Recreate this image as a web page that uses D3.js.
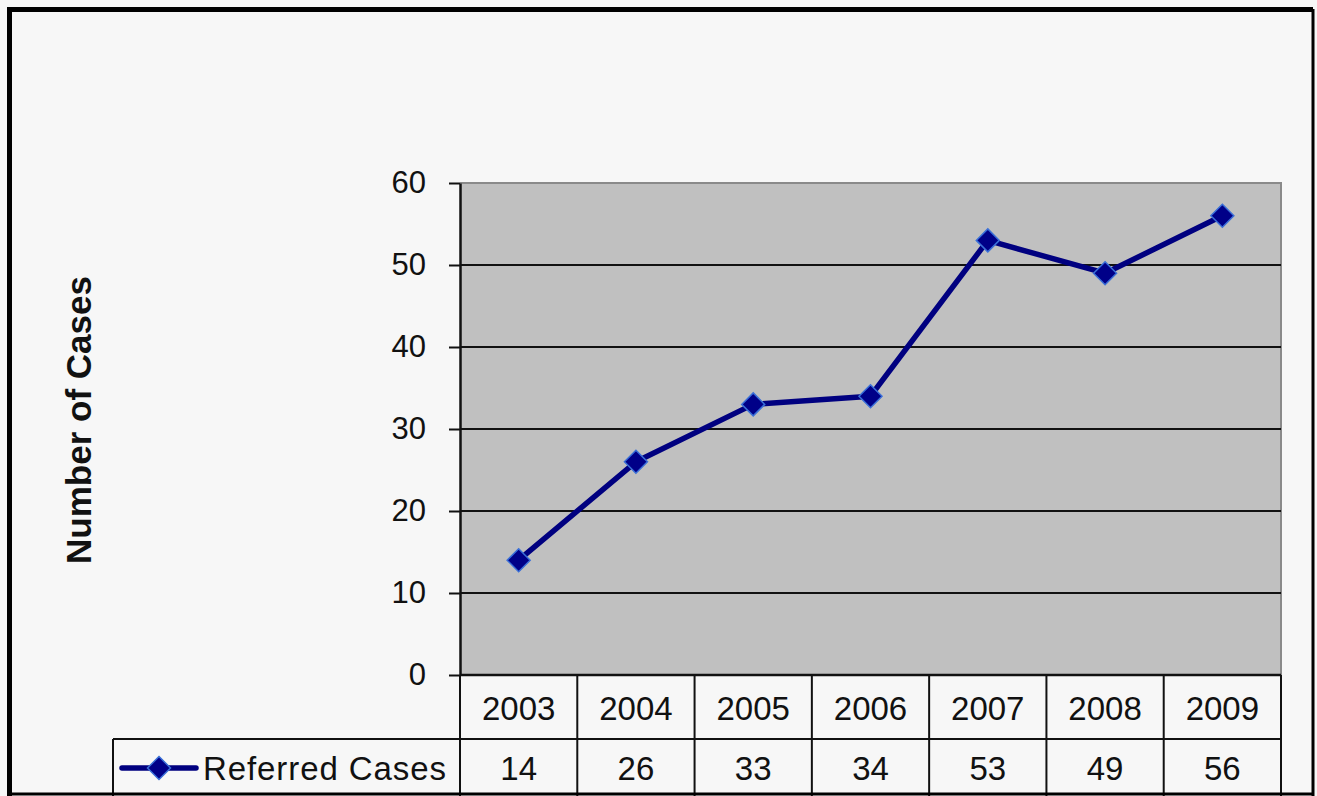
<!DOCTYPE html>
<html>
<head>
<meta charset="utf-8">
<script src="https://cdn.jsdelivr.net/npm/d3@7"></script>
<style>
  html, body { margin: 0; padding: 0; background: #f7f7f7; }
  svg { display: block; }
  text { font-family: "Liberation Sans", Arial, sans-serif; }
</style>
</head>
<body>
<svg id="chart" width="1317" height="796"></svg>
<script>
// ---- data ----
const years = ["2003", "2004", "2005", "2006", "2007", "2008", "2009"];
const referredCases = [14, 26, 33, 34, 53, 49, 56];
const seriesName = "Referred Cases";
const yTicks = [0, 10, 20, 30, 40, 50, 60];
const yTitle = "Number of Cases";

const svg = d3.select("#chart");
const W = 1317, H = 796;

// layout
const plot = { left: 460, right: 1281, top: 183, bottom: 675 };
const rowH1 = 64;   // year row
const legendLeft = 113;

svg.append("rect").attr("x", 0).attr("y", 0).attr("width", W).attr("height", H).attr("fill", "#f7f7f7");

const x = d3.scaleBand().domain(years).range([plot.left, plot.right]).padding(0);
const y = d3.scaleLinear().domain([0, 60]).range([plot.bottom, plot.top]);

// plot background
svg.append("rect")
  .attr("x", plot.left).attr("y", plot.top)
  .attr("width", plot.right - plot.left).attr("height", plot.bottom - plot.top)
  .attr("fill", "#c0c0c0");
// plot border (top/right grey)
svg.append("path")
  .attr("d", `M${plot.left},${plot.top}H${plot.right}V${plot.bottom}`)
  .attr("fill", "none").attr("stroke", "#8a8a8a").attr("stroke-width", 2);

// gridlines
svg.append("g").selectAll("line").data(yTicks.filter(t => t > 0 && t < 60)).join("line")
  .attr("x1", plot.left).attr("x2", plot.right)
  .attr("y1", d => y(d)).attr("y2", d => y(d))
  .attr("stroke", "#111").attr("stroke-width", 2);

// y axis
const yAxis = svg.append("g")
  .attr("transform", `translate(${plot.left},0)`)
  .call(d3.axisLeft(y).tickValues(yTicks).tickSize(11).tickPadding(23).tickSizeOuter(0));
yAxis.select(".domain").attr("stroke", "#111").attr("stroke-width", 2.5);
yAxis.selectAll(".tick line").attr("stroke", "#111").attr("stroke-width", 2);
yAxis.selectAll(".tick text")
  .attr("font-size", 31).attr("fill", "#111")
  .attr("font-family", "'Liberation Sans', Arial, sans-serif");

// y title
svg.append("text")
  .attr("transform", `translate(91,420) rotate(-90)`)
  .attr("text-anchor", "middle")
  .attr("font-size", 35).attr("font-weight", "bold").attr("fill", "#111")
  .text(yTitle);

// data table
const tableTop = plot.bottom, rowSplit = plot.bottom + rowH1, tableBottom = H + 10;
const tbl = svg.append("g").attr("stroke", "#111").attr("stroke-width", 2).attr("fill", "none");
tbl.append("line").attr("x1", plot.left).attr("x2", plot.right).attr("y1", tableTop).attr("y2", tableTop).attr("stroke-width", 2.5);
tbl.append("line").attr("x1", legendLeft).attr("x2", plot.right).attr("y1", rowSplit).attr("y2", rowSplit);
const edges = years.map(d => x(d)).concat([plot.right]);
tbl.selectAll("line.v").data(edges).join("line").attr("class", "v")
  .attr("x1", d => d).attr("x2", d => d).attr("y1", tableTop).attr("y2", tableBottom);
tbl.append("line").attr("x1", legendLeft).attr("x2", legendLeft).attr("y1", rowSplit).attr("y2", tableBottom);

// year labels
svg.append("g").selectAll("text").data(years).join("text")
  .attr("x", d => x(d) + x.bandwidth() / 2).attr("y", (tableTop + rowSplit) / 2 + 1)
  .attr("text-anchor", "middle").attr("dominant-baseline", "central")
  .attr("font-size", 33).attr("fill", "#111")
  .text(d => d);
// value labels
svg.append("g").selectAll("text").data(referredCases).join("text")
  .attr("x", (d, i) => x(years[i]) + x.bandwidth() / 2).attr("y", rowSplit + 29)
  .attr("text-anchor", "middle").attr("dominant-baseline", "central")
  .attr("font-size", 33).attr("fill", "#111")
  .text(d => d);

// series line
const line = d3.line().x((d, i) => x(years[i]) + x.bandwidth() / 2).y(d => y(d));
svg.append("path").datum(referredCases)
  .attr("d", line).attr("fill", "none").attr("stroke", "#000080").attr("stroke-width", 5.5)
  .attr("stroke-linejoin", "round");

const diamond = (cx, cy, r) => `M${cx},${cy - r}L${cx + r},${cy}L${cx},${cy + r}L${cx - r},${cy}Z`;
svg.append("g").selectAll("path").data(referredCases).join("path")
  .attr("d", (d, i) => diamond(x(years[i]) + x.bandwidth() / 2, y(d), 11.5))
  .attr("fill", "#000088").attr("stroke", "#3a6fd8").attr("stroke-width", 1.5);

// legend
const ly = rowSplit + 29;
svg.append("line").attr("x1", 122).attr("x2", 196).attr("y1", ly).attr("y2", ly)
  .attr("stroke", "#000080").attr("stroke-width", 5.5).attr("stroke-linecap", "round");
svg.append("path").attr("d", diamond(159, ly, 11.5))
  .attr("fill", "#000088").attr("stroke", "#3a6fd8").attr("stroke-width", 1.5);
svg.append("text").attr("x", 203).attr("y", ly).attr("dominant-baseline", "central")
  .attr("font-size", 33).attr("fill", "#111").attr("textLength", 243).attr("lengthAdjust", "spacing")
  .text(seriesName);

// outer frame
svg.append("path")
  .attr("d", `M9.5,${H + 5}V9.5H1313`)
  .attr("fill", "none").attr("stroke", "#000").attr("stroke-width", 5);
svg.append("line").attr("x1", 1313).attr("x2", 1313).attr("y1", 9).attr("y2", H)
  .attr("stroke", "#000").attr("stroke-width", 3);
svg.append("line").attr("x1", 9).attr("x2", 1314).attr("y1", H - 2).attr("y2", H - 2)
  .attr("stroke", "#000").attr("stroke-width", 3);
</script>
</body>
</html>
